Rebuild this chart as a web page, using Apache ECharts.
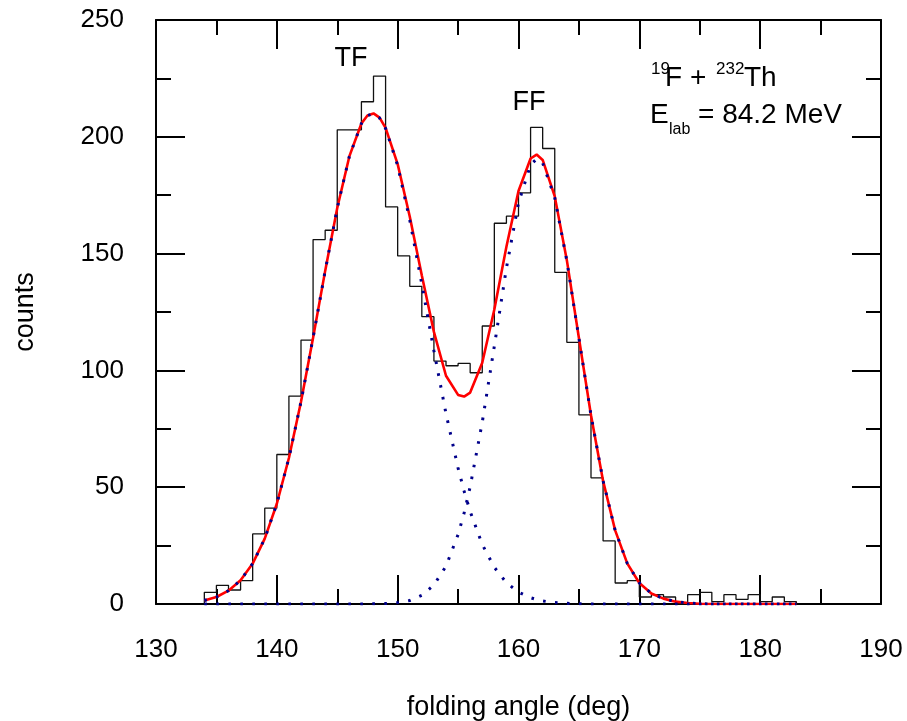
<!DOCTYPE html>
<html>
<head>
<meta charset="utf-8">
<script src="https://cdn.jsdelivr.net/npm/echarts@6/dist/echarts.min.js"></script>
<style>
html,body{margin:0;padding:0;background:#fff;}
#chart{width:907px;height:721px;}
</style>
</head>
<body>
<div id="chart"></div>
<script>
// Histogram: left bin edges (deg) and counts (1-deg bins)
const binEdges = [134,135,136,137,138,139,140,141,142,143,144,145,146,147,148,149,150,151,152,153,154,155,156,157,158,159,160,161,162,163,164,165,166,167,168,169,170,171,172,173,174,175,176,177,178,179,180,181,182];
const binCounts = [5,8,6,10,30,41,64,89,113,156,160,203,203,215,226,170,149,136,123,104,102,103,99,119,163,166,176,204,195,142,112,81,54,27,9,10,3,4,3,0,4,5,1,4,2,4,1,3,1];
const binWidth = 1;

// Fit curves sampled at these angles
const curveX = [134,135,136,137,138,139,140,141,142,143,144,145,146,147,147.5,148,148.5,149,150,151,152,153,154,155,155.5,156,157,158,159,160,161,161.5,162,163,164,165,166,167,168,169,170,171,172,173,174,175,176,177,178,179,180,181,182,183];
const tfFit = [1.5,3.0,5.7,10.2,17.3,28.0,42.9,62.5,86.6,114.0,142.6,169.5,191.6,205.7,209.1,209.9,208.1,203.6,187.7,164.4,136.9,108.4,81.5,58.2,48.3,39.6,25.5,15.7,9.1,5.1,2.7,1.9,1.3,0.6,0.3,0.1,0,0,0,0,0,0,0,0,0,0,0,0,0,0,0,0,0,0];
const ffFit = [0,0,0,0,0,0,0,0,0,0,0,0,0,0,0,0.1,0.1,0.2,0.6,1.5,3.7,8.1,16.2,29.7,39.0,50.2,77.8,110.4,143.8,171.7,188.0,190.5,188.8,173.9,146.9,113.8,80.8,52.7,31.5,17.4,9.0,4.5,2.3,1.0,0.4,0.1,0,0,0,0,0,0,0,0];
const totalFit = [1.5,3.0,5.7,10.2,17.3,28.0,42.9,62.5,86.6,114.0,142.6,169.5,191.6,205.7,209.1,210.0,208.2,203.8,188.3,165.9,140.6,116.5,97.7,89.5,88.8,90.5,103.3,126.1,152.9,176.8,190.7,192.4,190.1,174.5,147.2,113.9,80.8,52.7,31.5,17.4,9.0,4.5,2.3,1.0,0.4,0.1,0,0,0,0,0,0,0,0];

// Axis settings
const xMin = 130, xMax = 190, xStep = 10;
const yMin = 0, yMax = 250, yStep = 50;

// Build step outline for the histogram
const histPts = [[binEdges[0], 0]];
binEdges.forEach((e, i) => { histPts.push([e, binCounts[i]]); });
const lastEdge = binEdges[binEdges.length - 1] + binWidth;
histPts.push([lastEdge, binCounts[binCounts.length - 1]]);
histPts.push([lastEdge, 0]);

const zip = (xs, ys) => xs.map((x, i) => [x, ys[i]]);

const FONT = 'Liberation Sans, Arial, sans-serif';
const axisCommon = {
  type: 'value',
  axisLine: { show: true, onZero: false, lineStyle: { color: '#000', width: 2 } },
  axisTick: { show: true, inside: true, length: 29, lineStyle: { color: '#000', width: 2 } },
  minorTick: { show: true, splitNumber: 2, length: 15, lineStyle: { color: '#000', width: 2 } },
  splitLine: { show: false },
  minorSplitLine: { show: false }
};

const chart = echarts.init(document.getElementById('chart'), null, { renderer: 'canvas' });
chart.setOption({
  backgroundColor: '#fff',
  animation: false,
  grid: { left: 156, right: 26, top: 20, bottom: 117, containLabel: false, outerBoundsMode: 'none' },
  xAxis: [
    Object.assign({}, axisCommon, {
      min: xMin, max: xMax, interval: xStep, position: 'bottom',
      axisLabel: { fontSize: 26, color: '#000', margin: 33, fontFamily: FONT },
      name: 'folding angle (deg)', nameLocation: 'middle', nameGap: 90,
      nameTextStyle: { fontSize: 27, color: '#000', fontFamily: FONT }
    }),
    Object.assign({}, axisCommon, {
      min: xMin, max: xMax, interval: xStep, position: 'top',
      axisLabel: { show: false }
    })
  ],
  yAxis: [
    Object.assign({}, axisCommon, {
      min: yMin, max: yMax, interval: yStep, position: 'left',
      axisLabel: { fontSize: 26, color: '#000', margin: 32, fontFamily: FONT },
      name: 'counts', nameLocation: 'middle', nameGap: 117, nameRotate: 90,
      nameTextStyle: { fontSize: 27, color: '#000', fontFamily: FONT }
    }),
    Object.assign({}, axisCommon, {
      min: yMin, max: yMax, interval: yStep, position: 'right',
      axisLabel: { show: false }
    })
  ],
  series: [
    {
      name: 'data', type: 'line', xAxisIndex: 0, yAxisIndex: 0,
      data: histPts, step: 'end', showSymbol: false, symbol: 'none',
      lineStyle: { color: '#111', width: 1.3 }, z: 2
    },
    {
      name: 'total fit', type: 'line', xAxisIndex: 0, yAxisIndex: 0,
      data: zip(curveX, totalFit), showSymbol: false, symbol: 'none',
      lineStyle: { color: '#ff0000', width: 2.6 }, z: 3
    },
    {
      name: 'TF', type: 'line', xAxisIndex: 0, yAxisIndex: 0,
      data: zip(curveX, tfFit), showSymbol: false, symbol: 'none',
      lineStyle: { color: '#00008b', width: 3, type: [2.6, 9.4] }, z: 4
    },
    {
      name: 'FF', type: 'line', xAxisIndex: 0, yAxisIndex: 0,
      data: zip(curveX, ffFit), showSymbol: false, symbol: 'none',
      lineStyle: { color: '#00008b', width: 3, type: [2.6, 9.4] }, z: 4
    }
  ],
  graphic: [
    { type: 'text', x: 351, y: 59, style: { text: 'TF', fontSize: 27, fontFamily: FONT, fill: '#000', align: 'center', verticalAlign: 'middle' } },
    { type: 'text', x: 529, y: 103, style: { text: 'FF', fontSize: 27, fontFamily: FONT, fill: '#000', align: 'center', verticalAlign: 'middle' } },
    { type: 'text', x: 651, y: 69, style: { text: '19', fontSize: 17, fontFamily: FONT, fill: '#000', align: 'left', verticalAlign: 'middle' } },
    { type: 'text', x: 665, y: 78, style: { text: 'F + ', fontSize: 28, fontFamily: FONT, fill: '#000', align: 'left', verticalAlign: 'middle' } },
    { type: 'text', x: 716, y: 69, style: { text: '232', fontSize: 17, fontFamily: FONT, fill: '#000', align: 'left', verticalAlign: 'middle' } },
    { type: 'text', x: 744, y: 78, style: { text: 'Th', fontSize: 28, fontFamily: FONT, fill: '#000', align: 'left', verticalAlign: 'middle' } },
    { type: 'text', x: 650, y: 115, style: { text: 'E', fontSize: 28, fontFamily: FONT, fill: '#000', align: 'left', verticalAlign: 'middle' } },
    { type: 'text', x: 669, y: 130, style: { text: 'lab', fontSize: 16, fontFamily: FONT, fill: '#000', align: 'left', verticalAlign: 'middle' } },
    { type: 'text', x: 698, y: 115, style: { text: '= 84.2 MeV', fontSize: 28, fontFamily: FONT, fill: '#000', align: 'left', verticalAlign: 'middle' } }
  ]
});
</script>
</body>
</html>
